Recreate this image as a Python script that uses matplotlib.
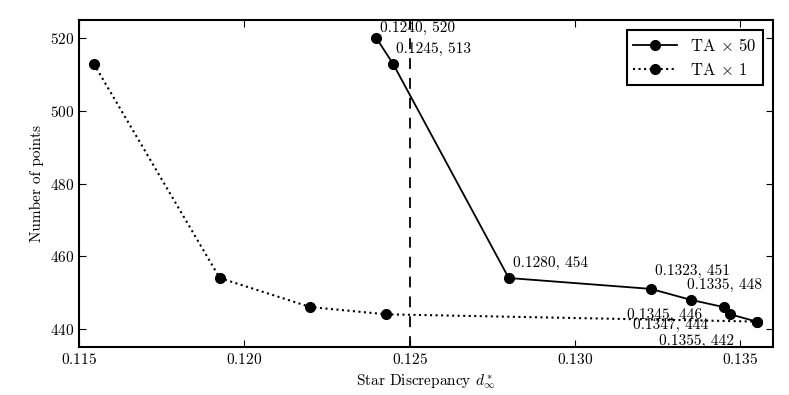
import matplotlib
matplotlib.use("Agg")
import matplotlib.pyplot as plt

plt.rcParams['font.family'] = ['cmr10', 'DejaVu Serif']
plt.rcParams['mathtext.fontset'] = 'cm'
plt.rcParams['axes.formatter.use_mathtext'] = True
plt.rcParams['font.size'] = 11
plt.rcParams['axes.linewidth'] = 1.5
plt.rcParams['xtick.direction'] = 'in'
plt.rcParams['ytick.direction'] = 'in'
plt.rcParams['xtick.top'] = True
plt.rcParams['ytick.right'] = True
plt.rcParams['xtick.major.size'] = 5
plt.rcParams['ytick.major.size'] = 5

# TA x 50 run
ta50_x = [0.1240, 0.1245, 0.1280, 0.1323, 0.1335, 0.1345, 0.1347, 0.1355]
ta50_y = [520, 513, 454, 451, 448, 446, 444, 442]
ta50_labels = ["0.1240, 520", "0.1245, 513", "0.1280, 454", "0.1323, 451",
               "0.1335, 448", "0.1345, 446", "0.1347, 444", "0.1355, 442"]

# TA x 1 run
ta1_x = [0.11545, 0.11926, 0.1220, 0.1243, 0.1355]
ta1_y = [513, 454, 446, 444, 442]

threshold = 0.125

fig = plt.figure(figsize=(7.89, 3.95), dpi=100)
ax = fig.add_axes([0.100, 0.1215, 0.880, 0.8275])

ax.plot(ta50_x, ta50_y, 'k-', marker='o', markersize=7, linewidth=1.3, label=r'TA $\times$ 50')
ax.plot(ta1_x, ta1_y, 'k:', marker='o', markersize=7, linewidth=1.5, label=r'TA $\times$ 1')
ax.axvline(threshold, color='k', linestyle='--', linewidth=1.3, dashes=(6, 5))

# label offsets in pixels (ha, va)
offsets = [(4, 3, 'left', 'bottom'), (3, 8, 'left', 'bottom'), (4, 8, 'left', 'bottom'),
           (4, 11, 'left', 'bottom'), (-4, 8, 'left', 'bottom'), (-22, -1, 'right', 'top'),
           (-22, -4, 'right', 'top'), (-23, -12, 'right', 'top')]
for x, y, txt, (dx, dy, ha, va) in zip(ta50_x, ta50_y, ta50_labels, offsets):
    ax.annotate(txt, (x, y), xytext=(dx, dy), textcoords='offset pixels',
                ha=ha, va=va, fontsize=11)

ax.set_xlim(0.115, 0.136)
ax.set_ylim(435, 525)
ax.set_xticks([0.115, 0.120, 0.125, 0.130, 0.135])
ax.set_yticks([440, 460, 480, 500, 520])
ax.set_xlabel(r'Star Discrepancy $d^*_\infty$')
ax.set_ylabel('Number of points')

leg = ax.legend(loc='upper right', numpoints=1, handlelength=2.6, fancybox=False,
                framealpha=1, edgecolor='k', fontsize=12, borderaxespad=0.6)
leg.get_frame().set_linewidth(1.5)

fig.savefig('out.png', dpi=100)
